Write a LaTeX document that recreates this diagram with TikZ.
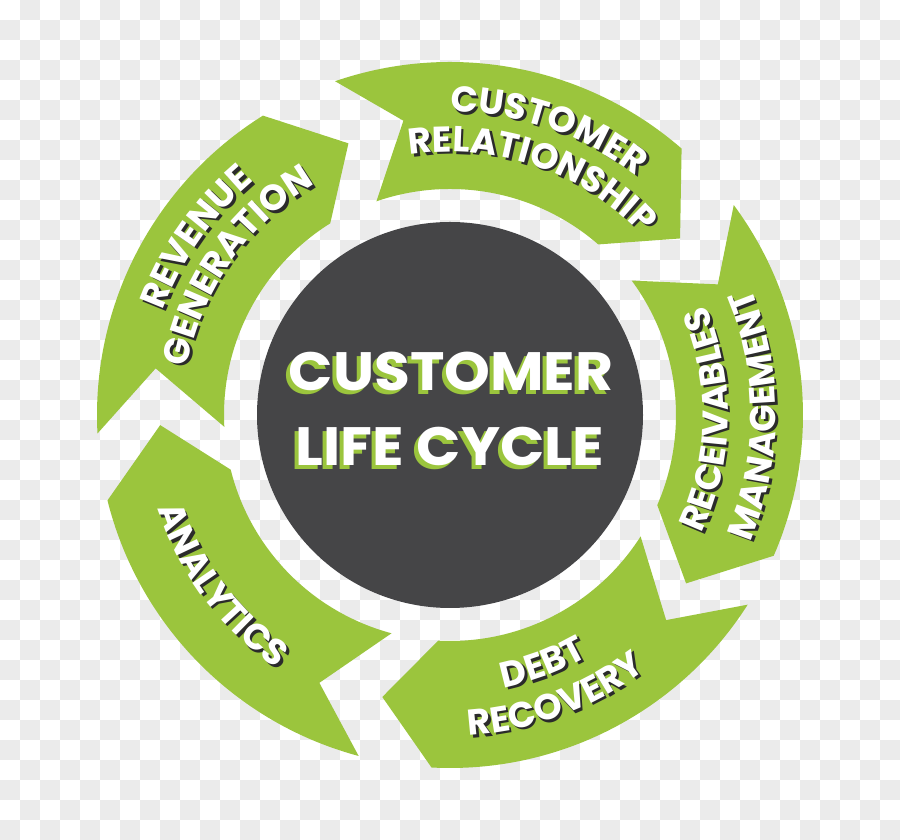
\documentclass[tikz,border=0pt]{standalone}
\usepackage{fontspec}
\setmainfont{Poppins}
\usetikzlibrary{decorations.text}
\definecolor{lgreen}{HTML}{9BC53D}
\definecolor{dgray}{HTML}{454547}
\definecolor{chk}{HTML}{EBEBEB}
\definecolor{shad}{HTML}{2B2B2B}
\newcommand\Ro{353}
\newcommand\Ri{226}
% tail angle, notch angle, head angle, tip angle
\newcommand\arrowseg[4]{%
  \fill[lgreen] (#1:\Ro) arc[start angle=#1, end angle=#3, radius=\Ro]
    -- (#4:290) -- (#3:\Ri) arc[start angle=#3, end angle=#1, radius=\Ri]
    -- (#2:298) -- cycle;}
\newcommand\arrfont{\bfseries\fontsize{36}{36}\selectfont}
% curved text: cw = tops outward, ccw = tops inward
\newcommand\cwtext[3]{% angle, radius, text
  \path[decorate, decoration={text along path, text align=center,
      text={|\arrfont\color{shad}|#3}}, shift={(2.5,-2.5)}]
    (#1+45:#2) arc[start angle=#1+45, end angle=#1-45, radius=#2];
  \path[decorate, decoration={text along path, text align=center,
      text={|\arrfont\color{white}|#3}}]
    (#1+45:#2) arc[start angle=#1+45, end angle=#1-45, radius=#2];}
\newcommand\ccwtext[3]{%
  \path[decorate, decoration={text along path, text align=center,
      text={|\arrfont\color{shad}|#3}}, shift={(2.5,-2.5)}]
    (#1-45:#2) arc[start angle=#1-45, end angle=#1+45, radius=#2];
  \path[decorate, decoration={text along path, text align=center,
      text={|\arrfont\color{white}|#3}}]
    (#1-45:#2) arc[start angle=#1-45, end angle=#1+45, radius=#2];}
\tikzset{
  title/.style={font=\bfseries\fontsize{54}{54}\selectfont, text=white, anchor=base, inner sep=0pt, xscale=1.08},
  titleshadow/.style={title, text=lgreen}
}
\begin{document}
\begin{tikzpicture}[x=1pt,y=1pt]
\useasboundingbox (0,0) rectangle (900,840);
\fill[white] (0,0) rectangle (900,840);
\foreach \i in {0,...,44}{
  \pgfmathtruncatemacro\js{1-mod(\i,2)}
  \pgfmathtruncatemacro\jt{\js+2}
  \foreach \j in {\js,\jt,...,41}{
    \fill[chk] (20*\i,820-20*\j) rectangle ++(20,20);
  }
}
\begin{scope}[shift={(450,425)}]
  \arrowseg{109}{99}{49}{37.5}
  \arrowseg{36.5}{26}{-23.5}{-35.5}
  \arrowseg{-32.5}{-43.5}{-93}{-103.5}
  \arrowseg{-105}{-116}{-166}{-178}
  \arrowseg{183}{171}{122}{110.5}
  \node[circle, fill=dgray, minimum size=386pt, inner sep=0pt] (core) at (0,0) {};
  \cwtext{71}{303}{CUSTOMER}
  \cwtext{71}{263}{RELATIONSHIP}
  \ccwtext{-1}{278}{RECEIVABLES}
  \ccwtext{0}{326}{MANAGEMENT}
  \ccwtext{-69.5}{278}{DEBT}
  \ccwtext{-69.5}{321}{RECOVERY}
  \ccwtext{-143.3}{307}{ANALYTICS}
  \cwtext{145}{305}{REVENUE}
  \cwtext{145}{267}{GENERATION}
\end{scope}
\node[titleshadow] (t1s) at (447,445) {CUSTOMER};
\node[title] (t1) at (451,449) {CUSTOMER};
\node[titleshadow] (t2s) at (446,370) {LIFE CYCLE};
\node[title] (t2) at (450,374) {LIFE CYCLE};
\end{tikzpicture}
\end{document}
